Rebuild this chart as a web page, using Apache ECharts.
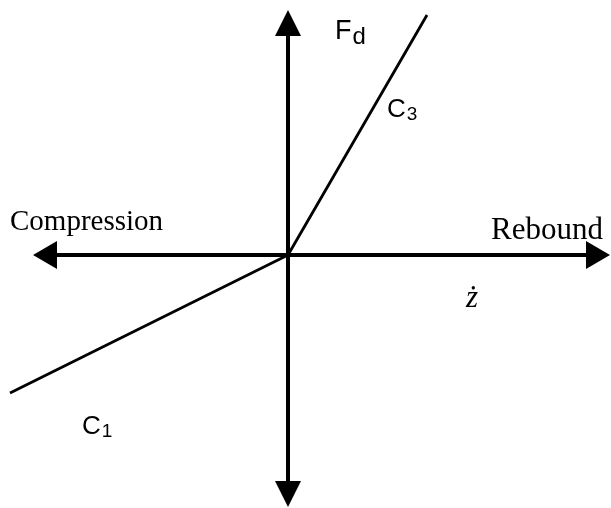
<!DOCTYPE html>
<html>
<head>
<meta charset="utf-8">
<script src="https://cdn.jsdelivr.net/npm/echarts@6/dist/echarts.min.js"></script>
<style>
  html, body { margin: 0; padding: 0; background: #fff; }
  #chart { width: 611px; height: 508px; }
</style>
</head>
<body>
<div id="chart"></div>
<script>
// Piecewise-linear damper characteristic: force F_d against velocity ż
// (compression to the left, rebound to the right).
const velocity = [-2.78, 0, 1.39];   // ż, arbitrary units
const force    = [-1.38, 0, 2.40];   // F_d, arbitrary units

// Plotting window and the extent of the two arrowed axes
const velocityWindow = [-2.88, 3.23];
const forceWindow    = [-2.53, 2.55];
const velocityAxis   = [-2.43, 3.10];
const forceAxis      = [-2.39, 2.32];

// Text labels
const forceLabel = 'F';
const forceSub = 'd';
const velocityLabel = 'ż';
const compressionLabel = 'Compression';
const reboundLabel = 'Rebound';
const slopeLabels = [['C', '1'], ['C', '3']];

const curve = velocity.map((v, i) => [v, force[i]]);

const chart = echarts.init(document.getElementById('chart'));

const serif = '"Liberation Serif", "DejaVu Serif", serif';
const sans = '"Liberation Sans", Arial, sans-serif';

const hiddenAxis = {
  type: 'value',
  axisLine: { show: false },
  axisTick: { show: false },
  axisLabel: { show: false },
  splitLine: { show: false }
};

function subText(main, sub, x, y, size, subSize, subDy) {
  return {
    type: 'text',
    x: x, y: y,
    style: {
      text: '{m|' + main + '}{s|' + sub + '}',
      rich: {
        m: { fontFamily: sans, fontSize: size, fill: '#000' },
        s: { fontFamily: sans, fontSize: subSize, fill: '#000', padding: [subDy, 0, 0, 1] }
      }
    }
  };
}

function arrowAxis(from, to, size) {
  return {
    silent: true,
    symbol: ['triangle', 'triangle'],
    symbolSize: size,
    label: { show: false },
    emphasis: { disabled: true },
    lineStyle: { color: '#000', width: 4, type: 'solid' },
    data: [[{ coord: from }, { coord: to }]]
  };
}

chart.setOption({
  backgroundColor: '#fff',
  animation: false,
  grid: { left: 0, right: 0, top: 0, bottom: 0 },
  xAxis: Object.assign({}, hiddenAxis, { min: velocityWindow[0], max: velocityWindow[1] }),
  yAxis: Object.assign({}, hiddenAxis, { min: forceWindow[0], max: forceWindow[1] }),
  series: [
    {
      // horizontal velocity axis
      type: 'line',
      data: [],
      markLine: arrowAxis([velocityAxis[0], 0], [velocityAxis[1], 0], [28, 24])
    },
    {
      // vertical force axis
      type: 'line',
      data: [],
      markLine: arrowAxis([0, forceAxis[0]], [0, forceAxis[1]], [26, 26])
    },
    {
      type: 'line',
      data: curve,
      clip: false,
      showSymbol: false,
      symbol: 'none',
      lineStyle: { color: '#000', width: 2.8 },
      z: 3
    }
  ],
  graphic: [
    subText(forceLabel, forceSub, 335, 15, 27, 24, 10),
    subText(slopeLabels[1][0], slopeLabels[1][1], 387, 96, 26, 19, 9),
    subText(slopeLabels[0][0], slopeLabels[0][1], 82, 413, 26, 19, 9),
    {
      type: 'text', x: 10, y: 208,
      style: { text: compressionLabel, fontFamily: serif, fontSize: 29, fill: '#000' }
    },
    {
      type: 'text', x: 491, y: 215,
      style: { text: reboundLabel, fontFamily: serif, fontSize: 31, fill: '#000' }
    },
    {
      type: 'text', x: 466, y: 283,
      style: { text: velocityLabel, fontFamily: serif, fontSize: 31, fontStyle: 'italic', fill: '#000' }
    }
  ]
});
</script>
</body>
</html>
